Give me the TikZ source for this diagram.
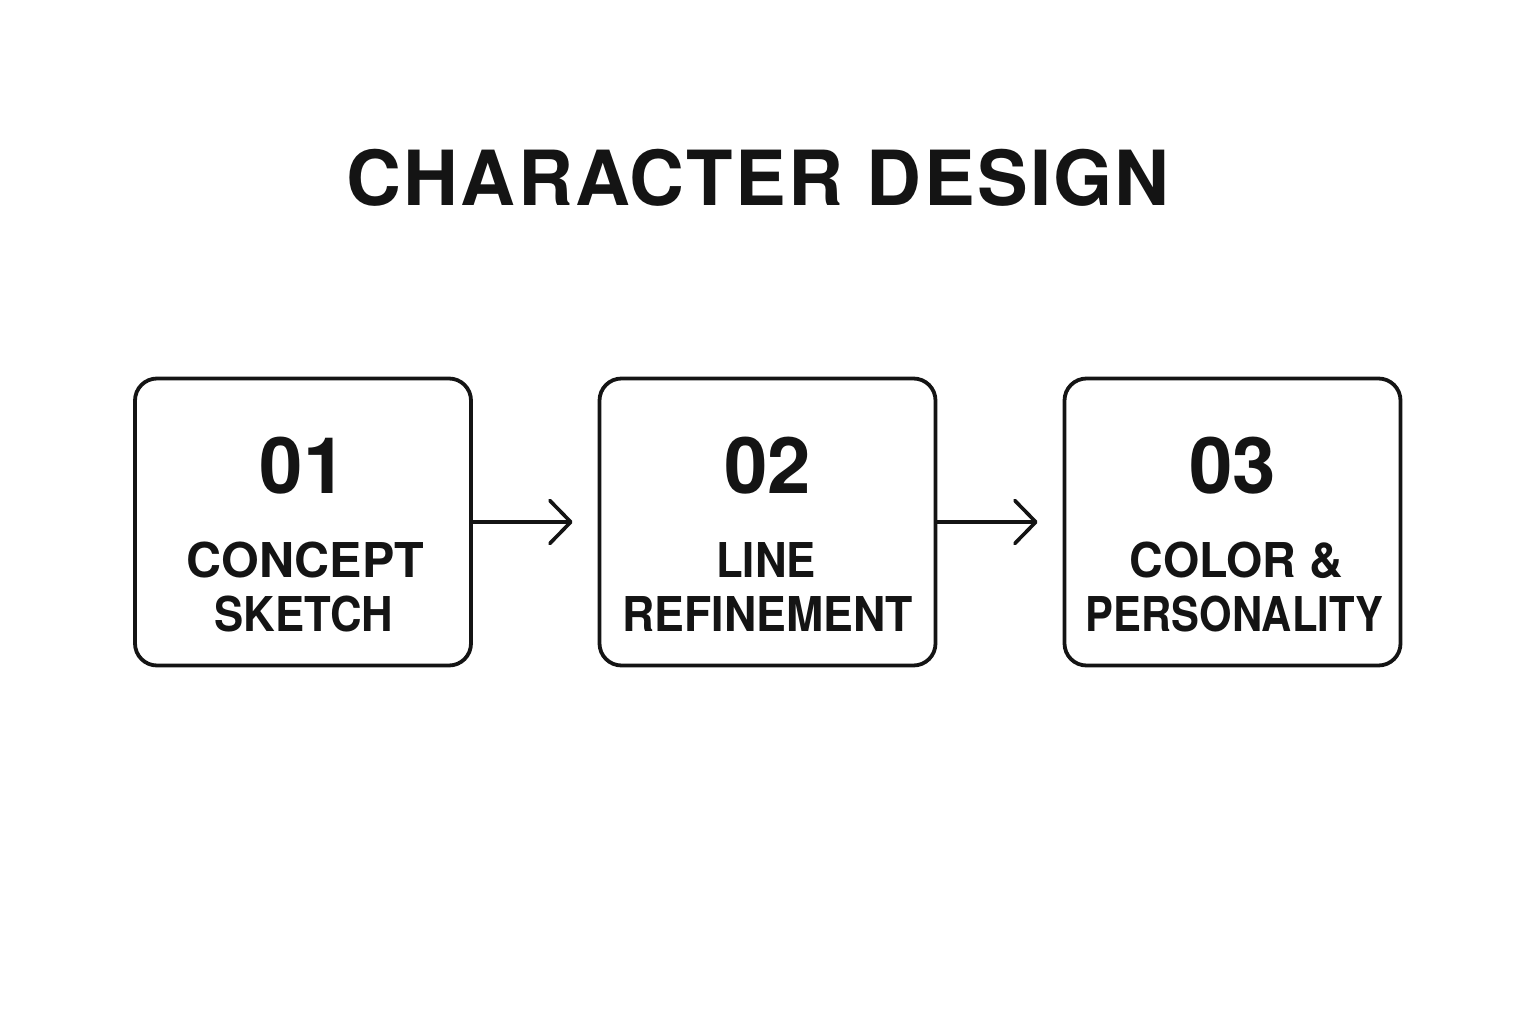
\documentclass[tikz,border=0pt]{standalone}
\usepackage{fontspec}
\setmainfont{TeX Gyre Heros}
\newfontfamily\titlefont[LetterSpace=3]{TeX Gyre Heros}
\usetikzlibrary{arrows.meta}
\definecolor{ink}{HTML}{141414}
\newcommand{\sqz}[2]{\scalebox{#1}[1]{#2}}
\begin{document}
\begin{tikzpicture}[x=1pt,y=-1pt,
  stepbox/.style={draw=ink, line width=3.8pt, rounded corners=22pt, minimum width=336pt, minimum height=287pt, inner sep=0pt},
  numtxt/.style={anchor=base, text=ink, font=\bfseries\fontsize{78}{78}\selectfont, inner sep=0pt},
  labtxt/.style={anchor=base, text=ink, font=\bfseries\fontsize{48}{48}\selectfont, inner sep=0pt},
  flow/.style={draw=ink, line width=3.6pt, line cap=round, -{Straight Barb[length=21pt, width=43pt, line cap=round, line join=round]}}]
\useasboundingbox (0,0) rectangle (1536,1024);
\fill[white] (0,0) rectangle (1536,1024);
\node[anchor=base, text=ink, font=\titlefont\bfseries\fontsize{76}{76}\selectfont, inner sep=0pt] (title) at (758,206) {CHARACTER DESIGN};
\node[stepbox] (b1) at (303,522) {};
\node[stepbox] (b2) at (767.5,522) {};
\node[stepbox] (b3) at (1232.5,522) {};
\node[numtxt] (n1) at (303,493) {01};
\node[numtxt] (n2) at (767.5,493) {02};
\node[numtxt] (n3) at (1232.5,493) {03};
\node[labtxt] (l1a) at (305.5,577) {\sqz{1.01}{CONCEPT}};
\node[labtxt] (l1b) at (304,631) {\sqz{0.91}{SKETCH}};
\node[labtxt] (l2a) at (766,577) {\sqz{0.91}{LINE}};
\node[labtxt] (l2b) at (767.5,631) {\sqz{0.93}{REFINEMENT}};
\node[labtxt] (l3a) at (1236.5,577) {\sqz{0.97}{COLOR \&}};
\node[labtxt] (l3b) at (1234.5,631) {\sqz{0.87}{PERSONALITY}};
\coordinate (e1) at ([xshift=-25pt]b2.west);
\coordinate (e2) at ([xshift=-25pt]b3.west);
\draw[flow] (b1.east) -- (e1);
\draw[flow] (b2.east) -- (e2);
\end{tikzpicture}
\end{document}
